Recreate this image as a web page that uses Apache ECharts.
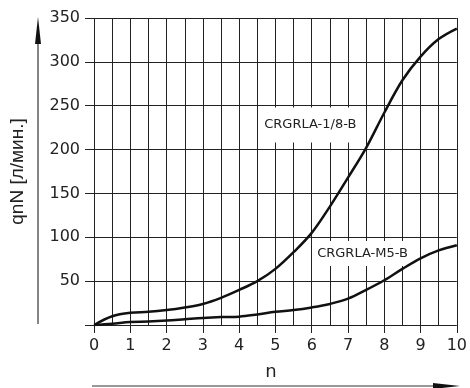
<!DOCTYPE html>
<html>
<head>
<meta charset="utf-8">
<script src="https://cdn.jsdelivr.net/npm/echarts@6/dist/echarts.min.js"></script>
<style>html,body{margin:0;padding:0;background:#fff}#c{width:470px;height:388px}</style>
</head>
<body>
<div id="c"></div>
<script>
const xValues = [0, 0.5, 1, 1.5, 2, 2.5, 3, 3.5, 4, 4.5, 5, 5.5, 6, 6.5, 7, 7.5, 8, 8.5, 9, 9.5, 10];
const seriesNames = ['CRGRLA-1/8-B', 'CRGRLA-M5-B'];
const flow18 = [0, 10, 14, 15, 17, 20, 24, 31, 40, 50, 64, 83, 105, 135, 168, 202, 242, 279, 306, 326, 338];
const flowM5 = [0, 1.5, 3.5, 4, 5, 6.5, 8, 9, 9.5, 12, 15, 17, 20, 24, 30, 40, 51, 64, 76, 85, 91];
const xTickLabels = [0, 1, 2, 3, 4, 5, 6, 7, 8, 9, 10];
const xGridValues = [0, 0.5, 1, 1.5, 2, 2.5, 3, 3.5, 4, 4.5, 5, 5.5, 6, 6.5, 7, 7.5, 8, 8.5, 9, 9.5, 10];
const yTickLabels = [0, 50, 100, 150, 200, 250, 300, 350];

const chart = echarts.init(document.getElementById('c'), null, {renderer: 'canvas'});
const pair = (xs, ys) => xs.map((x, i) => [x, ys[i]]);
const tickFont = {fontFamily: 'DejaVu Sans', fontSize: 16, color: '#222'};

chart.setOption({
  animation: false,
  backgroundColor: '#fff',
  grid: {left: 83, right: 12, top: 18, bottom: 63, containLabel: false},
  xAxis: {
    type: 'value', min: -0.25, max: 10,
    name: 'n', nameLocation: 'middle', nameGap: 38,
    nameTextStyle: {fontFamily: 'DejaVu Sans', fontSize: 18, color: '#222'},
    axisLine: {show: false},
    splitLine: {show: false},
    axisTick: {show: true, customValues: xTickLabels, length: 8, inside: false, lineStyle: {color: '#222', width: 1}},
    axisLabel: Object.assign({customValues: xTickLabels, margin: 13}, tickFont)
  },
  yAxis: {
    type: 'value', min: 0, max: 350, interval: 50,
    name: 'qnN [л/мин.]', nameLocation: 'middle', nameGap: 58, nameRotate: 90,
    nameTextStyle: {fontFamily: 'Liberation Sans', fontSize: 19, color: '#222'},
    axisLine: {show: false},
    axisTick: {show: false},
    splitLine: {show: true, lineStyle: {color: '#222', width: 1}},
    axisLabel: Object.assign({margin: 5, formatter: v => (v === 0 ? '' : String(v))}, tickFont)
  },
  series: [
    {
      type: 'line', name: 'grid', data: [], silent: true,
      markLine: {
        silent: true, symbol: 'none', animation: false,
        label: {show: false},
        lineStyle: {color: '#222', width: 1, type: 'solid'},
        data: xGridValues.map(v => [{coord: [v, 0]}, {coord: [v, 350]}])
      }
    },
    {
      type: 'line', name: seriesNames[0], data: pair(xValues, flow18),
      smooth: 0.35, showSymbol: false, symbol: 'none',
      lineStyle: {color: '#111', width: 2.5}, z: 5,
      markPoint: {
        symbol: 'rect', symbolSize: 0,
        data: [{coord: [5.96, 228], value: seriesNames[0]}],
        label: {show: true, formatter: seriesNames[0], fontFamily: 'DejaVu Sans', fontSize: 13, color: '#222',
                backgroundColor: '#fff', padding: [11, 4, 11, 4]}
      }
    },
    {
      type: 'line', name: seriesNames[1], data: pair(xValues, flowM5),
      smooth: 0.35, showSymbol: false, symbol: 'none',
      lineStyle: {color: '#111', width: 2.5}, z: 5,
      markPoint: {
        symbol: 'rect', symbolSize: 0,
        data: [{coord: [7.40, 81.5], value: seriesNames[1]}],
        label: {show: true, formatter: seriesNames[1], fontFamily: 'DejaVu Sans', fontSize: 13, color: '#222',
                backgroundColor: '#fff', padding: [6, 2, 6, 2]}
      }
    }
  ],
  graphic: [
    {type: 'line', shape: {x1: 38, y1: 30, x2: 38, y2: 324}, style: {stroke: '#333', lineWidth: 1.2}},
    {type: 'polygon', shape: {points: [[38, 17], [35, 44], [41, 44]]}, style: {fill: '#111'}},
    {type: 'line', shape: {x1: 92, y1: 386, x2: 440, y2: 386}, style: {stroke: '#333', lineWidth: 1.2}},
    {type: 'polygon', shape: {points: [[460, 386], [433, 383], [433, 389]]}, style: {fill: '#111'}}
  ]
});
</script>
</body>
</html>
